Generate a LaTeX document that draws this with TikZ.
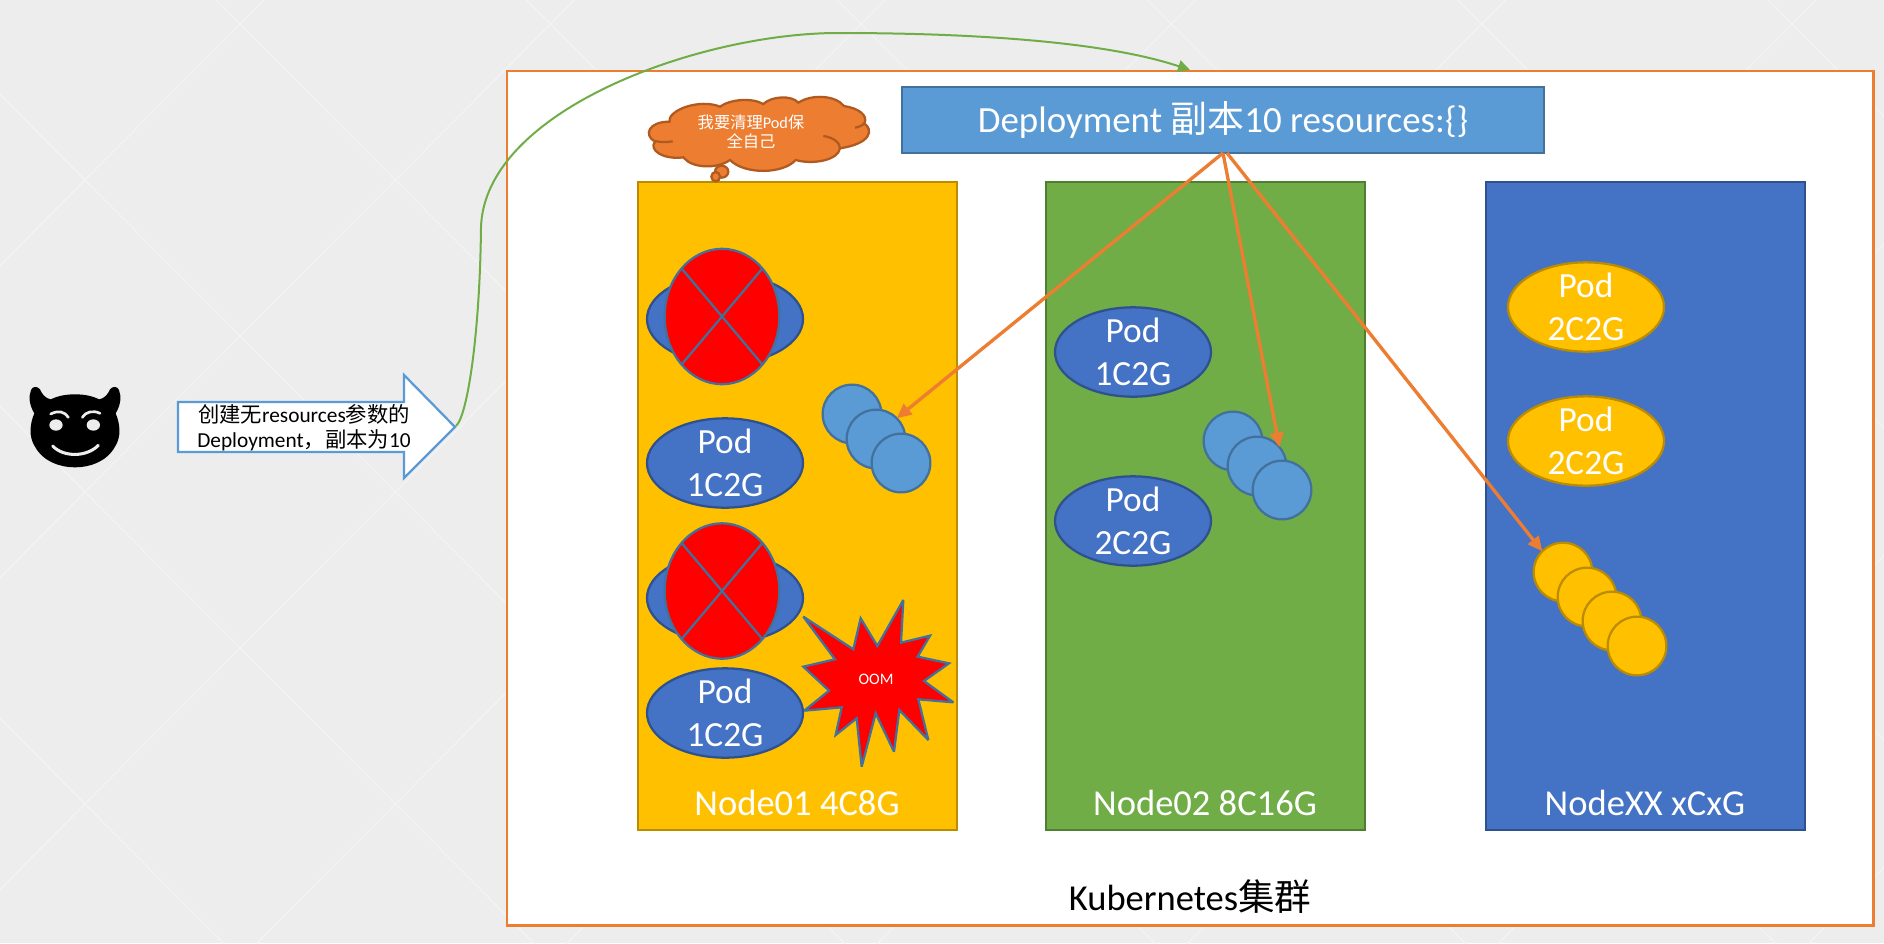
\documentclass[tikz,border=0pt]{standalone}
\usepackage{fontspec}
\setmainfont{Carlito}
\newfontfamily\cjk{Noto Sans CJK SC}
\usetikzlibrary{shapes.geometric,arrows.meta}
\definecolor{bgc}{HTML}{EDEDED}
\definecolor{latt}{HTML}{F4F4F4}
\definecolor{orangeC}{HTML}{ED7D31}
\definecolor{orangeD}{HTML}{AE5A21}
\definecolor{blueL}{HTML}{5B9BD5}
\definecolor{blueLD}{HTML}{41719C}
\definecolor{blueM}{HTML}{4472C4}
\definecolor{blueMD}{HTML}{2F528F}
\definecolor{gold}{HTML}{FFC000}
\definecolor{goldD}{HTML}{BC8C00}
\definecolor{greenC}{HTML}{70AD47}
\definecolor{greenD}{HTML}{507E32}
\tikzset{
  every node/.style={outer sep=0pt},
  px/.style={line width=1.7pt},
  nodebox/.style={draw,px,rectangle,inner sep=0pt,minimum width=239.5pt,minimum height=486pt},
  bluepod/.style={ellipse,draw=blueMD,fill=blueM,px,minimum width=117pt,minimum height=67pt,inner xsep=0pt,inner ysep=-12pt,text=white,font=\fontsize{26.5pt}{33.75pt}\selectfont,align=center},
  goldpod/.style={bluepod,draw=goldD,fill=gold},
  deadpod/.style={ellipse,draw=blueLD,fill=red,px,minimum width=86pt,minimum height=101.5pt,inner sep=0pt},
  crossline/.style={draw=blueLD,px},
  smallc/.style={circle,draw=blueLD,fill=blueL,px,minimum size=44pt,inner sep=0pt},
  smally/.style={circle,draw=goldD,fill=gold,px,minimum size=44pt,inner sep=0pt},
  biglabel/.style={text=white,font=\fontsize{27.4pt}{32pt}\selectfont,inner sep=0pt},
  deparrow/.style={draw=orangeC,line width=2.5pt,-{Triangle[length=11pt,width=10pt]}},
}
\begin{document}
\begin{tikzpicture}[x=0.75pt,y=-0.75pt]
\path[use as bounding box] (0,0) rectangle (1884,943);
\fill[bgc] (0,0) rectangle (1884,943);
\begin{scope}
\clip (0,0) rectangle (1884,943);
\foreach \i in {-5,...,10}{
  \draw[latt,line width=0.8pt] ({85+310.4*\i-995},{180-1000}) -- ({85+310.4*\i+1990},{180+2000});
  \draw[latt,line width=0.8pt] ({85+310.4*\i+995},{180-1000}) -- ({85+310.4*\i-1990},{180+2000});
}
\end{scope}
% frame
\node[draw=orangeC,fill=white,line width=2pt,rectangle,inner sep=0pt,minimum width=1025pt,minimum height=641pt,anchor=north west] (frame) at (507,71) {};
\node[font=\fontsize{27.4pt}{32pt}\selectfont,inner sep=0pt] (k8s) at (1190,897) {Kubernetes{\cjk 集群}};
% deployment
\node[draw=blueLD,fill=blueL,px,rectangle,inner sep=0pt,minimum width=481pt,minimum height=49.5pt,text=white,font=\fontsize{27.7pt}{32pt}\selectfont] (deploy) at (1223,120) {\raisebox{-2.3pt}{Deployment {\cjk 副本}10 resources:\{\}}};
% node boxes
\node[nodebox,draw=goldD,fill=gold,anchor=north west] (n1) at (638,182) {};
\node[nodebox,draw=greenD,fill=greenC,anchor=north west] (n2) at (1046,182) {};
\node[nodebox,draw=blueMD,fill=blueM,anchor=north west] (n3) at (1486,182) {};
\node[biglabel] (l1) at (797,803) {Node01 4C8G};
\node[biglabel] (l2) at (1205,803) {Node02 8C16G};
\node[biglabel] (l3) at (1645,803) {NodeXX xCxG};
% pods node01
\node[bluepod] (p1) at (725,319) {};
\node[deadpod] (r1) at (722,316.5) {};
\draw[crossline] ([shift={(-40.3,-47.9)}]r1.center) -- ([shift={(40.3,47.9)}]r1.center);
\draw[crossline] ([shift={(40.3,-47.9)}]r1.center) -- ([shift={(-40.3,47.9)}]r1.center);
\node[bluepod] (p2) at (725,463) {\raisebox{-1pt}{Pod}\\1C2G};
\node[bluepod] (p3) at (725,598) {};
\node[deadpod] (r2) at (722,591) {};
\draw[crossline] ([shift={(-40.3,-47.9)}]r2.center) -- ([shift={(40.3,47.9)}]r2.center);
\draw[crossline] ([shift={(40.3,-47.9)}]r2.center) -- ([shift={(-40.3,47.9)}]r2.center);
\node[bluepod] (p4) at (725,713) {\raisebox{-1pt}{Pod}\\1C2G};
% small circles
\node[smallc] (a1) at (852,414) {};
\node[smallc] (a2) at (876,439) {};
\node[smallc] (a3) at (901,463) {};
\node[smallc] (b1) at (1233,441) {};
\node[smallc] (b2) at (1257,466) {};
\node[smallc] (b3) at (1282,490) {};
\node[smally] (c1) at (1563,572) {};
\node[smally] (c2) at (1587,597) {};
\node[smally] (c3) at (1612,621) {};
\node[smally] (c4) at (1637,646) {};
% node02, nodeXX pods
\node[bluepod] (p5) at (1133,352) {\raisebox{-1pt}{Pod}\\1C2G};
\node[bluepod] (p6) at (1133,521) {\raisebox{-1pt}{Pod}\\2C2G};
\node[goldpod] (p7) at (1586,307) {\raisebox{-1pt}{Pod}\\2C2G};
\node[goldpod] (p8) at (1586,441) {\raisebox{-1pt}{Pod}\\2C2G};
% OOM
\begin{scope}[shift={(620,500)},x=0.25pt,y=-0.25pt]
\draw[draw=blueLD,fill=red,px,line join=miter,miter limit=3] (550,350)--(700,448)--(722,355)--(772,438)--(850,300)--(843,428)--(930,407)--(893,470)--(987,490)--(912,543)--(1000,607)--(895,598)--(925,720)--(838,630)--(822,755)--(767,640)--(725,800)--(710,655)--(647,705)--(665,622)--(553,632)--(627,572)--(550,500)--(645,478)--cycle;
\end{scope}
\node[text=white,font=\fontsize{12pt}{14pt}\selectfont,inner sep=0pt] (oom) at (876,679) {OOM};
% thought cloud
\begin{scope}[shift={(620,80)},x=0.25pt,y=-0.25pt]
\draw[draw=orangeD,fill=orangeC,px] (148,128)
  .. controls (140,90) and (240,55) .. (300,80)
  .. controls (330,58) and (395,52) .. (430,72)
  .. controls (455,48) and (515,45) .. (535,68)
  .. controls (575,42) and (645,45) .. (672,78)
  .. controls (715,85) and (745,105) .. (733,130)
  .. controls (760,150) and (755,190) .. (660,205)
  .. controls (655,240) and (580,255) .. (527,240)
  .. controls (490,282) and (375,285) .. (330,240)
  .. controls (290,268) and (215,265) .. (190,232)
  .. controls (130,240) and (85,210) .. (105,185)
  .. controls (70,165) and (85,125) .. (148,125)
  -- cycle;
\draw[draw=orangeD,px] (105,183) .. controls (120,187) and (140,187) .. (158,184);
\draw[draw=orangeD,px] (610,168) .. controls (640,172) and (660,188) .. (660,205);
\draw[draw=orangeD,px] (705,143) .. controls (715,142) and (728,136) .. (733,130);
\draw[draw=orangeD,fill=orangeC,px] (305,275) ellipse (20 and 18);
\draw[draw=orangeD,fill=orangeC,px] (287,290) ellipse (13 and 14);
\end{scope}
\node[text=white,font=\fontsize{12.2pt}{14.3pt}\selectfont,inner sep=0pt,align=center] (think) at (751,132) {{\cjk 我要清理}Pod{\cjk 保}\\{\cjk 全自己}};
% devil
\begin{scope}[shift={(0,340)},x=0.25pt,y=-0.25pt]
\fill[black] (225,163) .. controls (190,163) and (170,170) .. (152,178)
 .. controls (135,175) and (125,160) .. (120,148)
 .. controls (112,138) and (98,138) .. (93,150)
 .. controls (85,170) and (88,195) .. (103,220)
 .. controls (90,250) and (85,290) .. (105,320)
 .. controls (130,365) and (180,382) .. (225,382)
 .. controls (270,382) and (320,365) .. (345,320)
 .. controls (365,290) and (360,250) .. (347,220)
 .. controls (362,195) and (365,170) .. (357,150)
 .. controls (352,138) and (338,138) .. (330,148)
 .. controls (325,160) and (315,175) .. (298,178)
 .. controls (280,170) and (260,163) .. (225,163) -- cycle;
\fill[bgc] (168,255) ellipse (20 and 17);
\fill[bgc] (280,255) ellipse (20 and 17);
\draw[bgc,line width=2pt,line cap=round] (152,222) .. controls (175,210) and (195,215) .. (205,232);
\draw[bgc,line width=2pt,line cap=round] (247,232) .. controls (257,215) and (280,210) .. (300,220);
\draw[bgc,line width=2.3pt,line cap=round] (158,318) .. controls (190,352) and (260,352) .. (295,316);
\end{scope}
% block arrow
\draw[draw=blueL,fill=white,px,line join=miter] (178,402) -- (404,402) -- (404,375) -- (455,427) -- (404,478) -- (404,452) -- (178,452) -- cycle;
\coordinate (artip) at (456,426);
\coordinate (frametop) at (1190,70);
\node[font=\fontsize{16pt}{18.75pt}\selectfont,inner sep=0pt,align=center,text=black] (artext) at (304,428) {{\cjk 创建无}resources{\cjk 参数的}\\Deployment{\cjk ，副本为}10};
% connectors
\draw[greenC,line width=1.5pt,-{Triangle[length=9pt,width=9pt]}] (artip) .. controls (468,415) and (480,330) .. (481,227) .. controls (485,110) and (700,33) .. (838,33) .. controls (960,33) and (1100,40) .. (frametop);
\draw[deparrow] (deploy.south) -- (a2.45);
\draw[deparrow] (deploy.south) -- (b2.40);
\draw[deparrow] ([xshift=3pt]deploy.south) -- (c1.135);
\end{tikzpicture}
\end{document}
